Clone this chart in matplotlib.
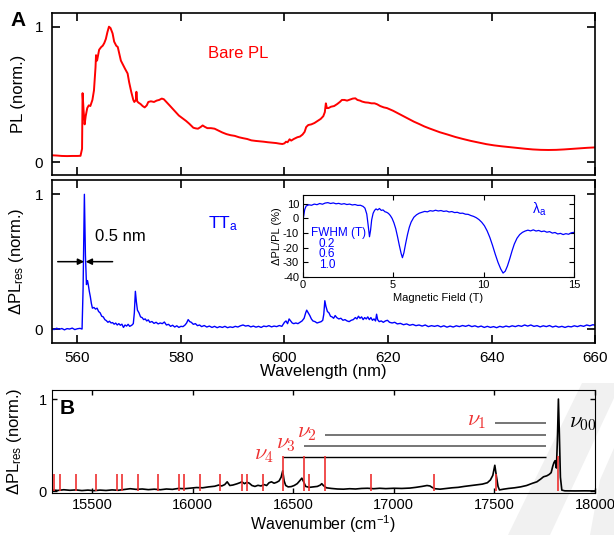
import matplotlib.pyplot as plt
from matplotlib.patches import Polygon

plt.rcParams['font.family'] = ['Liberation Sans', 'DejaVu Sans']
plt.rcParams['mathtext.fontset'] = 'custom'
plt.rcParams['mathtext.rm'] = 'Liberation Sans'
plt.rcParams['mathtext.it'] = 'Liberation Sans:italic'
plt.rcParams['mathtext.bf'] = 'Liberation Sans:bold'
plt.rcParams['axes.unicode_minus'] = False

# ---- bare PL spectrum (panel A, top) ----
wl_bare = [555.0, 556.0, 557.0, 558.0, 559.0, 560.0, 560.6, 560.9, 561.0, 561.2, 561.4, 561.6, 561.9,
           562.2, 562.5, 562.9, 563.2, 563.5, 563.6, 563.8, 564.0, 564.2, 564.6, 564.9, 565.2, 565.5,
           565.8, 566.1, 566.4, 566.8, 567.1, 567.5, 567.8, 568.1, 568.4, 568.8, 569.2, 569.7, 570.0,
           570.4, 570.8, 571.0, 571.3, 571.4, 571.55, 571.8, 572.2, 572.6, 573.0, 573.4, 573.7, 574.2,
           574.8, 575.3, 575.8, 576.3, 576.7, 577.2, 577.8, 578.4, 579.0, 579.6, 580.3, 581.0, 581.6,
           582.0, 582.4, 582.9, 583.3, 583.8, 584.2, 584.6, 585.1, 585.8, 586.5, 587.2, 588.0, 588.8,
           589.6, 590.4, 591.2, 592.0, 592.8, 593.6, 594.4, 595.2, 596.0, 596.8, 597.6, 598.4, 599.0,
           599.6, 600.0, 600.3, 600.6, 601.0, 601.3, 601.8, 602.5, 603.0, 603.5, 603.9, 604.2, 604.6,
           605.2, 605.8, 606.4, 607.0, 607.5, 607.8, 608.0, 608.2, 608.5, 609.0, 609.6, 610.2, 610.7,
           611.1, 611.6, 612.1, 612.6, 613.2, 613.7, 614.1, 614.6, 615.0, 615.6, 616.2, 616.8, 617.4,
           617.9, 618.5, 619.2, 619.8, 620.4, 621.0, 622.0, 623.0, 624.0, 625.0, 626.0, 627.0, 628.0,
           629.0, 630.0, 631.5, 633.0, 634.5, 636.0, 637.5, 639.0, 640.5, 642.0, 643.5, 645.0, 646.5,
           648.0, 649.5, 651.0, 652.5, 654.0, 655.5, 657.0, 658.5, 660.0]
pl_bare = [0.052, 0.050, 0.047, 0.046, 0.047, 0.047, 0.048, 0.10, 0.51, 0.38, 0.28, 0.34, 0.40,
           0.42, 0.415, 0.46, 0.53, 0.70, 0.79, 0.75, 0.79, 0.83, 0.85, 0.86, 0.88, 0.91,
           0.96, 1.00, 0.99, 0.95, 0.89, 0.86, 0.85, 0.80, 0.75, 0.72, 0.69, 0.655, 0.59,
           0.52, 0.46, 0.445, 0.46, 0.52, 0.45, 0.44, 0.43, 0.415, 0.405, 0.42, 0.445, 0.45,
           0.445, 0.455, 0.46, 0.47, 0.465, 0.445, 0.42, 0.395, 0.37, 0.345, 0.325, 0.305, 0.285,
           0.27, 0.255, 0.25, 0.248, 0.26, 0.272, 0.262, 0.252, 0.252, 0.248, 0.235, 0.22, 0.208,
           0.2, 0.195, 0.185, 0.178, 0.172, 0.162, 0.158, 0.155, 0.152, 0.148, 0.145, 0.142, 0.138,
           0.135, 0.14, 0.152, 0.148, 0.17, 0.16, 0.172, 0.185, 0.19, 0.205, 0.225, 0.26, 0.275,
           0.28, 0.29, 0.305, 0.32, 0.34, 0.37, 0.435, 0.40, 0.40, 0.41, 0.415, 0.43, 0.445,
           0.46, 0.46, 0.455, 0.462, 0.47, 0.472, 0.46, 0.455, 0.448, 0.442, 0.44, 0.435, 0.435,
           0.428, 0.415, 0.405, 0.40, 0.39, 0.38, 0.36, 0.34, 0.32, 0.30, 0.283, 0.265, 0.25,
           0.236, 0.222, 0.205, 0.187, 0.172, 0.158, 0.146, 0.134, 0.125, 0.118, 0.112, 0.106, 0.1,
           0.095, 0.092, 0.091, 0.092, 0.095, 0.099, 0.103, 0.107, 0.11]

# ---- resonant dPL spectrum TTa (panel A, bottom) ----
wl_res = [555.0, 555.5, 556.0, 556.5, 557.0, 557.5, 558.0, 558.5, 559.0, 559.5, 560.0, 560.5, 560.9,
          561.1, 561.35, 561.55, 561.75, 561.95, 562.1, 562.3, 562.5, 562.7, 562.9, 563.2, 563.5,
          563.8, 564.1, 564.4, 564.7, 565.0, 565.3, 565.6, 565.9, 566.2, 566.5, 566.8, 567.1, 567.4,
          567.7, 568.0, 568.3, 568.6, 568.9, 569.2, 569.5, 569.8, 570.1, 570.5, 570.8, 571.0, 571.2,
          571.4, 571.6, 571.9, 572.2, 572.5, 572.8, 573.1, 573.4, 573.7, 574.0, 574.4, 574.8, 575.2,
          575.6, 576.0, 576.4, 576.8, 577.2, 577.6, 578.0, 578.4, 578.8, 579.2, 579.6, 580.0, 580.4,
          580.8, 581.1, 581.4, 581.7, 582.0, 582.4, 582.8, 583.2, 583.6, 584.0, 584.5, 585.0, 585.5,
          586.0, 586.5, 587.0, 587.5, 588.0, 588.5, 589.0, 589.5, 590.0, 590.5, 591.0, 591.5, 592.0,
          592.5, 593.0, 593.5, 594.0, 594.5, 595.0, 595.5, 596.0, 596.5, 597.0, 597.5, 598.0, 598.5,
          599.0, 599.5, 600.0, 600.3, 600.6, 600.9, 601.2, 601.5, 601.8, 602.2, 602.6, 603.0, 603.4,
          603.8, 604.1, 604.3, 604.6, 604.9, 605.2, 605.5, 605.9, 606.3, 606.7, 607.1, 607.4, 607.6,
          607.8, 608.0, 608.3, 608.6, 608.9, 609.2, 609.5, 609.8, 610.1, 610.5, 610.9, 611.3, 611.7,
          612.1, 612.5, 612.9, 613.3, 613.7, 614.0, 614.3, 614.6, 614.9, 615.2, 615.5, 615.8, 616.1,
          616.4, 616.7, 617.0, 617.3, 617.6, 617.8, 618.0, 618.3, 618.7, 619.1, 619.5, 619.9, 620.3,
          620.8, 621.3, 621.8, 622.4, 623.0, 623.6, 624.2, 624.8, 625.4, 626.0, 626.6, 627.2, 627.8,
          628.4, 629.0, 629.6, 630.2, 630.8, 631.4, 632.0, 632.6, 633.2, 633.8, 634.4, 635.0, 635.6,
          636.2, 636.8, 637.4, 638.0, 638.6, 639.2, 639.8, 640.4, 641.0, 641.6, 642.2, 642.8, 643.4,
          644.0, 644.6, 645.2, 645.8, 646.4, 647.0, 647.6, 648.2, 648.8, 649.4, 650.0, 650.6, 651.2,
          651.8, 652.4, 653.0, 653.6, 654.2, 654.8, 655.4, 656.0, 656.6, 657.2, 657.8, 658.4, 659.0,
          659.6, 660.0]
dpl_res = [0.002, -0.004, 0.006, -0.002, 0.004, -0.006, 0.003, 0.000, 0.007, -0.004, 0.002, 0.005, 0.000,
           0.30, 1.00, 0.55, 0.33, 0.36, 0.33, 0.28, 0.24, 0.19, 0.155, 0.16, 0.148,
           0.155, 0.13, 0.12, 0.095, 0.09, 0.07, 0.062, 0.05, 0.058, 0.045, 0.048, 0.036, 0.044,
           0.03, 0.04, 0.028, 0.036, 0.012, 0.03, 0.022, 0.035, 0.02, 0.028, 0.04, 0.12, 0.28,
           0.2, 0.14, 0.12, 0.09, 0.085, 0.07, 0.075, 0.06, 0.068, 0.05, 0.056, 0.042, 0.05,
           0.038, 0.045, 0.04, 0.052, 0.03, 0.035, 0.02, 0.028, 0.015, 0.024, 0.012, 0.02, 0.018,
           0.03, 0.045, 0.07, 0.055, 0.05, 0.035, 0.04, 0.025, 0.03, 0.018, 0.026, 0.015, 0.022,
           0.012, 0.02, 0.01, 0.018, 0.012, 0.02, 0.01, 0.016, 0.012, 0.02, 0.015, 0.024, 0.03,
           0.022, 0.026, 0.016, 0.022, 0.014, 0.02, 0.012, 0.022, 0.018, 0.025, 0.016, 0.022, 0.018,
           0.026, 0.02, 0.05, 0.06, 0.04, 0.075, 0.06, 0.045, 0.04, 0.045, 0.04, 0.05, 0.06,
           0.08, 0.12, 0.14, 0.12, 0.1, 0.075, 0.06, 0.055, 0.045, 0.05, 0.055, 0.065, 0.11,
           0.21, 0.17, 0.13, 0.12, 0.095, 0.09, 0.08, 0.1, 0.085, 0.075, 0.08, 0.065, 0.07,
           0.06, 0.055, 0.065, 0.07, 0.085, 0.075, 0.095, 0.08, 0.09, 0.07, 0.085, 0.075, 0.09,
           0.07, 0.085, 0.065, 0.075, 0.06, 0.11, 0.07, 0.055, 0.06, 0.05, 0.06, 0.065, 0.05,
           0.045, 0.05, 0.038, 0.042, 0.032, 0.038, 0.028, 0.034, 0.025, 0.03, 0.022, 0.03, 0.018,
           0.025, 0.02, 0.026, 0.016, 0.024, 0.014, 0.022, 0.015, 0.024, 0.018, 0.026, 0.02, 0.028,
           0.018, 0.024, 0.015, 0.022, 0.012, 0.02, 0.012, 0.018, 0.01, 0.02, 0.014, 0.022, 0.016,
           0.024, 0.018, 0.026, 0.02, 0.03, 0.022, 0.03, 0.02, 0.025, 0.016, 0.024, 0.018, 0.026,
           0.015, 0.022, 0.014, 0.02, 0.012, 0.02, 0.016, 0.024, 0.018, 0.026, 0.02, 0.03, 0.024,
           0.032, 0.028]
fwhm_edges = [561.3, 561.6]  # nm, arrows either side of the TTa line

# ---- magnetic field sweep (inset) ----
field = [0.0, 0.05, 0.12, 0.2, 0.35, 0.5, 0.65, 0.8, 0.95, 1.1, 1.25, 1.4, 1.55, 1.7, 1.85, 2.0,
         2.15, 2.3, 2.45, 2.6, 2.75, 2.9, 3.05, 3.2, 3.35, 3.45, 3.55, 3.62, 3.70, 3.76, 3.82, 3.9,
         3.98, 4.06, 4.15, 4.25, 4.35, 4.45, 4.55, 4.65, 4.75, 4.85, 4.95, 5.05, 5.15, 5.25, 5.35,
         5.45, 5.52, 5.6, 5.7, 5.8, 5.9, 6.0, 6.15, 6.3, 6.45, 6.6, 6.75, 6.9, 7.05, 7.2, 7.35,
         7.5, 7.65, 7.8, 7.95, 8.1, 8.25, 8.4, 8.55, 8.7, 8.85, 9.0, 9.15, 9.3, 9.45, 9.6, 9.75,
         9.9, 10.05, 10.2, 10.35, 10.5, 10.65, 10.8, 10.95, 11.08, 11.2, 11.32, 11.45, 11.58, 11.7,
         11.85, 12.0, 12.15, 12.3, 12.45, 12.6, 12.75, 12.9, 13.05, 13.2, 13.35, 13.5, 13.65, 13.8,
         13.95, 14.1, 14.25, 14.4, 14.55, 14.7, 14.85, 15.0]
dpl_field = [-6.5, 0.5, 6.0, 8.5, 9.3, 9.0, 9.8, 9.4, 10.2, 9.7, 10.5, 10.8, 10.2, 10.6, 10.0, 10.3,
             9.7, 10.1, 9.5, 9.8, 9.2, 9.5, 8.9, 9.0, 8.2, 7.0, 3.0, -4.0, -12.5, -8.0, -1.0, 3.5,
             5.5, 6.5, 5.8, 6.8, 5.5, 5.8, 4.6, 4.2, 3.4, 2.0, 0.0, -3.0, -7.0, -12.5, -18.5,
             -24.0, -26.8, -23.5, -17.0, -11.0, -6.0, -2.5, 0.8, 2.5, 3.6, 4.2, 4.8, 4.5, 5.3, 5.0, 5.6,
             5.1, 5.4, 4.8, 5.1, 4.4, 4.7, 4.0, 4.2, 3.5, 3.6, 2.9, 2.8, 2.0, 1.4, 0.5, -0.8,
             -2.6, -5.0, -8.5, -13.0, -18.5, -24.5, -30.0, -34.5, -37.3, -36.0, -32.5, -27.5, -22.0, -17.5,
             -13.5, -11.0, -9.5, -8.6, -8.0, -8.5, -7.8, -8.6, -8.2, -9.0, -8.6, -9.4, -9.0, -10.0,
             -9.6, -10.6, -10.2, -11.0, -10.4, -10.8, -9.8, -9.5]
fwhm_vals = ['0.2', '0.6', '1.0']

# ---- resonant dPL vs wavenumber (panel B) ----
wn = [15300, 15330, 15360, 15390, 15420, 15450, 15480, 15510, 15540, 15570, 15600, 15630, 15660,
      15690, 15720, 15750, 15780, 15810, 15840, 15870, 15900, 15930, 15960, 15990, 16020, 16050,
      16080, 16110, 16130, 16145, 16160, 16172, 16185, 16200, 16220, 16235, 16245, 16258, 16270,
      16282, 16295, 16310, 16325, 16340, 16355, 16368, 16380, 16392, 16405, 16418, 16430, 16440,
      16448, 16455, 16463, 16475, 16490, 16505, 16520, 16532, 16543, 16552, 16562, 16580, 16600,
      16620, 16635, 16642, 16650, 16665, 16690, 16720, 16750, 16780, 16810, 16840, 16870, 16900,
      16930, 16960, 17000, 17040, 17080, 17110, 17140, 17165, 17180, 17190, 17205, 17230, 17260,
      17290, 17320, 17350, 17380, 17410, 17440, 17465, 17480, 17492, 17502, 17510, 17518, 17525,
      17545, 17570, 17600, 17630, 17660, 17690, 17711, 17730, 17744, 17760, 17772, 17782, 17790,
      17796, 17802, 17808, 17813, 17818, 17823, 17828, 17835, 17850, 17900, 17950, 18000]
dpl_wn = [0.012, 0.006, 0.014, 0.008, 0.012, 0.005, 0.01, 0.004, 0.01, 0.006, 0.012, 0.008, 0.016,
          0.025, 0.018, 0.022, 0.015, 0.02, 0.014, 0.022, 0.018, 0.028, 0.025, 0.032, 0.038, 0.035,
          0.045, 0.052, 0.065, 0.055, 0.07, 0.10, 0.06, 0.065, 0.078, 0.09, 0.10, 0.08, 0.095,
          0.085, 0.06, 0.05, 0.062, 0.055, 0.07, 0.06, 0.09, 0.10, 0.085, 0.095, 0.11, 0.15,
          0.22, 0.11, 0.06, 0.045, 0.048, 0.06, 0.08, 0.11, 0.14, 0.1, 0.05, 0.04, 0.045,
          0.05, 0.065, 0.08, 0.06, 0.035, 0.028, 0.022, 0.02, 0.025, 0.022, 0.028, 0.03, 0.025,
          0.03, 0.026, 0.03, 0.028, 0.032, 0.04, 0.05, 0.06, 0.055, 0.04, 0.025, 0.02, 0.028,
          0.035, 0.04, 0.05, 0.058, 0.065, 0.075, 0.09, 0.12, 0.17, 0.28, 0.16, 0.05, 0.012,
          0.02, 0.028, 0.035, 0.045, 0.06, 0.085, 0.10, 0.13, 0.155, 0.165, 0.18, 0.2, 0.27,
          0.31, 0.33, 0.25, 0.55, 1.0, 0.6, 0.15, 0.01, 0.002, 0.001, 0.002, 0.001]

# calculated vibronic lines (stick spectrum)
stick_pos = [15313, 15341, 15419, 15519, 15623, 15648, 15727, 15830, 15933, 15958, 16037, 16138,
             16244, 16271, 16349, 16448, 16554, 16580, 16658, 16887, 17200, 17507, 17818]
stick_h = [0.18, 0.18, 0.18, 0.18, 0.18, 0.18, 0.18, 0.18, 0.18, 0.18, 0.18, 0.18,
           0.18, 0.18, 0.18, 0.38, 0.38, 0.18, 0.38, 0.18, 0.18, 0.18, 0.38]

# progressions nu1..nu4 back to the 0-0 line
prog_labels = [r'$\nu_1$', r'$\nu_2$', r'$\nu_3$', r'$\nu_4$']
prog_start = [17503, 16658, 16554, 16448]
prog_y = [0.74, 0.61, 0.49, 0.365]
prog_end = 17757
prog_colors = ['#6a6a6a', '#6a6a6a', '#6a6a6a', 'black']

red_b = '#ee3030'

fig = plt.figure(figsize=(6.14, 5.35), dpi=100)

# faint grey watermark strokes in the lower right corner
W, H = 614.0, 535.0
for pts in ([(582, 383), (614, 383), (614, 398), (550, 535), (508, 535)],
            [(614, 448), (614, 535), (590, 535), (600, 480)]):
    fig.patches.append(Polygon([(x / W, 1 - y / H) for x, y in pts], closed=True,
                               transform=fig.transFigure, facecolor='#f1f1f1',
                               edgecolor='none', zorder=-5))

ax1 = fig.add_axes([0.0839, 0.6720, 0.8852, 0.3032])
ax2 = fig.add_axes([0.0839, 0.3598, 0.8852, 0.3032])
ax3 = fig.add_axes([0.0842, 0.0779, 0.8849, 0.1931])
axin = fig.add_axes([0.4927, 0.4822, 0.4422, 0.1533])

for ax in (ax1, ax2):
    ax.set_xlim(555, 660)
    ax.set_xticks([560, 580, 600, 620, 640, 660])
    ax.set_yticks([0, 1])
    ax.tick_params(direction='in', length=6, width=1.2, top=True, right=True,
                   labelsize=11, pad=6)
    for s in ax.spines.values():
        s.set_linewidth(1.2)

# top: bare PL
ax1.plot(wl_bare, pl_bare, color='red', lw=1.4)
ax1.set_ylim(-0.097, 1.099)
ax1.tick_params(labelbottom=False)
ax1.set_ylabel('PL (norm.)', fontsize=12)
ax1.yaxis.set_label_coords(-0.047, 0.5)
ax1.text(585.2, 0.80, 'Bare PL', color='red', fontsize=12, va='center', ha='left')
fig.text(18.5 / W, 1 - 20.5 / H, 'A', fontsize=15, fontweight='bold', ha='center', va='center')

# bottom: resonant dPL spectrum
ax2.plot(wl_res, dpl_res, color='blue', lw=1.0)
ax2.set_ylim(-0.10, 1.104)
ax2.set_ylabel(r'ΔPL$_{\mathrm{res}}$ (norm.)', fontsize=12)
ax2.yaxis.set_label_coords(-0.047, 0.5)
ax2.set_xlabel('Wavelength (nm)', fontsize=12)
ax2.xaxis.set_label_coords(0.5, -0.13)
ax2.text(585.3, 0.78, r'TT$_{\mathrm{a}}$', color='blue', fontsize=12.5, va='center', ha='left')
ax2.text(563.4, 0.69, '0.5 nm', fontsize=12, va='center', ha='left')
arrow = dict(arrowstyle='-|>', color='black', lw=1.1, mutation_scale=9, shrinkA=0, shrinkB=0)
ax2.annotate('', xy=(fwhm_edges[0], 0.5), xytext=(556.2, 0.5), arrowprops=arrow)
ax2.annotate('', xy=(fwhm_edges[1], 0.5), xytext=(566.8, 0.5), arrowprops=arrow)

# inset: field dependence
axin.plot(field, dpl_field, color='blue', lw=0.9)
axin.set_xlim(0, 15)
axin.set_ylim(-40, 16)
axin.set_xticks([0, 5, 10, 15])
axin.set_yticks([10, 0, -10, -20, -30, -40])
axin.tick_params(direction='in', length=3.5, width=0.8, top=True, right=True, labelsize=8, pad=2.5)
for s in axin.spines.values():
    s.set_linewidth(0.8)
axin.set_xlabel('Magnetic Field (T)', fontsize=8, labelpad=1.5)
axin.set_ylabel('ΔPL/PL (%)', fontsize=8, labelpad=1)
axin.text(13.1, 6, 'λ$_{\\mathrm{a}}$', color='blue', fontsize=10, ha='center', va='center')
axin.text(0.45, -10, 'FWHM (T)', color='blue', fontsize=8.5, ha='left', va='center')
for i, v in enumerate(fwhm_vals):
    axin.text(1.35, -17.3 - 7.2 * i, v, color='blue', fontsize=8.5, ha='center', va='center')

# panel B
ax3.set_facecolor('none')
ax3.plot(wn, dpl_wn, color='black', lw=1.2, zorder=2)
ax3.vlines(stick_pos, 0, stick_h, color=red_b, lw=1.2, zorder=3)
for lab, x0, y, c in zip(prog_labels, prog_start, prog_y, prog_colors):
    ax3.hlines(y, x0, prog_end, color=c, lw=1.3 if c != 'black' else 1.0, zorder=2)
    ax3.text(x0 - 40, y + 0.03, lab, color=red_b, fontsize=16, ha='right', va='center',
             math_fontfamily='cm')
ax3.text(17870, 0.74, r'$\nu_{00}$', color='black', fontsize=16, ha='left', va='center',
         math_fontfamily='cm')
ax3.set_xlim(15300, 18000)
ax3.set_ylim(-0.025, 1.098)
ax3.set_xticks([15500, 16000, 16500, 17000, 17500, 18000])
ax3.set_yticks([0, 1])
ax3.tick_params(direction='in', length=3.5, width=1.0, top=True, right=True, labelsize=10.5, pad=3.5)
ax3.set_xlabel(r'Wavenumber (cm$^{-1}$)', fontsize=11.5)
ax3.xaxis.set_label_coords(0.5, -0.19)
ax3.set_ylabel(r'ΔPL$_{\mathrm{res}}$ (norm.)', fontsize=12)
ax3.yaxis.set_label_coords(-0.051, 0.5)
fig.text(66.7 / W, 1 - 408.7 / H, 'B', fontsize=15, fontweight='bold', ha='center', va='center')

fig.savefig('out.png', dpi=100)
